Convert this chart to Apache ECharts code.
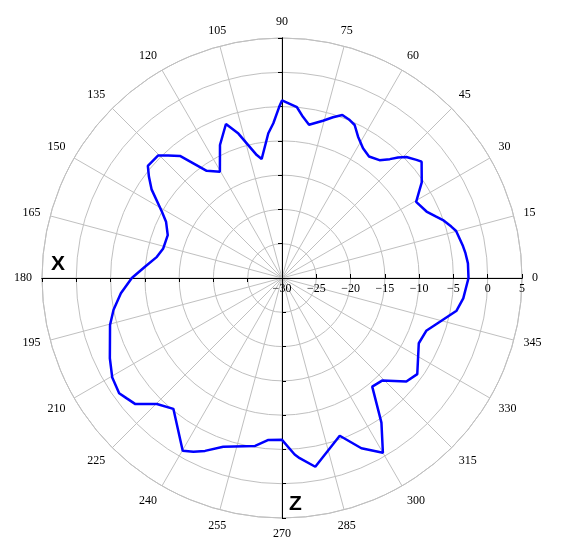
<!DOCTYPE html>
<html>
<head>
<meta charset="utf-8">
<script src="https://cdn.jsdelivr.net/npm/echarts@6/dist/echarts.min.js"></script>
<style>html,body{margin:0;padding:0;background:#fff}#c{width:566px;height:560px}</style>
</head>
<body>
<div id="c"></div>
<script>
// Pattern samples: angle (degrees) and level (dB)
var angles = [0, 4.5, 7.7, 10, 15.1, 16.9, 19.8, 21.7, 24.7, 29.6, 32.6, 34.4, 39.8, 41.3, 44.2, 46.1, 47.8, 50.4, 54.4, 58.0, 61.7, 64.6, 67.1, 69.7, 72.4, 75.4, 80.0, 82.6, 85.0, 90.0, 90.9, 93.2, 95.4, 99.7, 101.6, 106.8, 110.0, 115.0, 120.3, 125.1, 129.9, 132.9, 135.3, 140.1, 142.7, 145.8, 151.1, 154.1, 159.4, 166.0, 170.4, 175.3, 180, 185.4, 190.7, 195.3, 205.0, 210.4, 215.3, 217.8, 220.7, 225.2, 230.3, 240.1, 243.0, 246.0, 250.8, 260.9, 265.2, 270, 274.1, 275.6, 280.0, 290.1, 295.0, 300.0, 304.5, 309.7, 314.3, 320.2, 324.6, 334.5, 339.9, 344.5, 349.4, 353.6, 360];
var levels = [-2.8, -2.8, -3.0, -3.2, -3.7, -4.2, -5.05, -5.8, -6.8, -7.5, -6.2, -5.3, -3.5, -3.9, -4.7, -5.6, -6.6, -7.7, -8.2, -7.7, -6.6, -5.3, -4.9, -4.65, -5.4, -6.3, -7.3, -6.3, -5.0, -4.1, -5.0, -7.4, -8.8, -12.4, -11.7, -8.0, -6.1, -8.6, -12.05, -10.9, -6.8, -5.6, -4.6, -4.5, -5.6, -7.0, -10.0, -11.2, -12.2, -12.15, -11.5, -9.95, -8.1, -6.4, -5.0, -4.0, -2.3, -1.3, -0.9, -1.35, -1.8, -4.1, -5.2, -0.95, -1.55, -2.4, -3.95, -5.2, -6.3, -6.4, -4.2, -3.6, -2.05, -5.5, -2.6, -0.57, -4.4, -9.4, -9.1, -6.4, -5.8, -7.9, -7.6, -6.1, -4.1, -3.4, -2.8];
var radiusMin = -30, radiusMax = 5, radiusStep = 5;
var angleStep = 15;
var axisNames = ['X', 'Z'];

var chart = echarts.init(document.getElementById('c'));
var serif = 'Liberation Serif';
var center = [282, 278], R = 240;
var starts = [0, 90, 180, 270];
var polar = [], angleAxis = [], radiusAxis = [];
var idx = 0;
starts.forEach(function (s, si) {
  [false, true].forEach(function (inside, ii) {
    var i = idx++;
    var main = (si === 0 && ii === 0);
    polar.push({ center: center, radius: R });
    angleAxis.push({
      polarIndex: i, type: 'value', min: 0, max: 360, interval: angleStep,
      startAngle: s, clockwise: false, show: main, z: 1,
      axisLine: { show: true, lineStyle: { color: '#c0c0c0', width: 1 } },
      axisTick: { show: false },
      axisLabel: { show: true, color: '#000', fontFamily: serif, fontSize: 12, margin: 10,
        formatter: function (v) { return v >= 360 ? '' : String(v); } },
      splitLine: { show: true, lineStyle: { color: '#c0c0c0', width: 1 } }
    });
    radiusAxis.push({
      polarIndex: i, type: 'value', min: radiusMin, max: radiusMax, interval: radiusStep, z: 5,
      axisLine: { show: true, lineStyle: { color: '#000', width: 1 } },
      axisTick: { show: true, inside: inside, length: 4, lineStyle: { color: '#000' } },
      axisLabel: { show: main, color: '#000', fontFamily: serif, fontSize: 12, margin: -17,
        formatter: function (v) { return String(v).replace('-', '\u2212'); } },
      splitLine: { show: main, lineStyle: { color: '#c0c0c0', width: 1 } }
    });
  });
});

var data = angles.map(function (a, k) { return [levels[k], a]; });

chart.setOption({
  animation: false,
  backgroundColor: '#fff',
  polar: polar,
  angleAxis: angleAxis,
  radiusAxis: radiusAxis,
  series: [{
    type: 'line', coordinateSystem: 'polar', polarIndex: 0, data: data,
    showSymbol: false, symbol: 'none', z: 10,
    lineStyle: { color: '#0000ff', width: 2.5 }
  }],
  graphic: [
    { type: 'text', left: 51, top: 254, style: { text: axisNames[0], fontFamily: 'Liberation Sans', fontWeight: 'bold', fontSize: 21, fill: '#000' } },
    { type: 'text', left: 289, top: 494, style: { text: axisNames[1], fontFamily: 'Liberation Sans', fontWeight: 'bold', fontSize: 21, fill: '#000' } }
  ]
});
</script>
</body>
</html>
